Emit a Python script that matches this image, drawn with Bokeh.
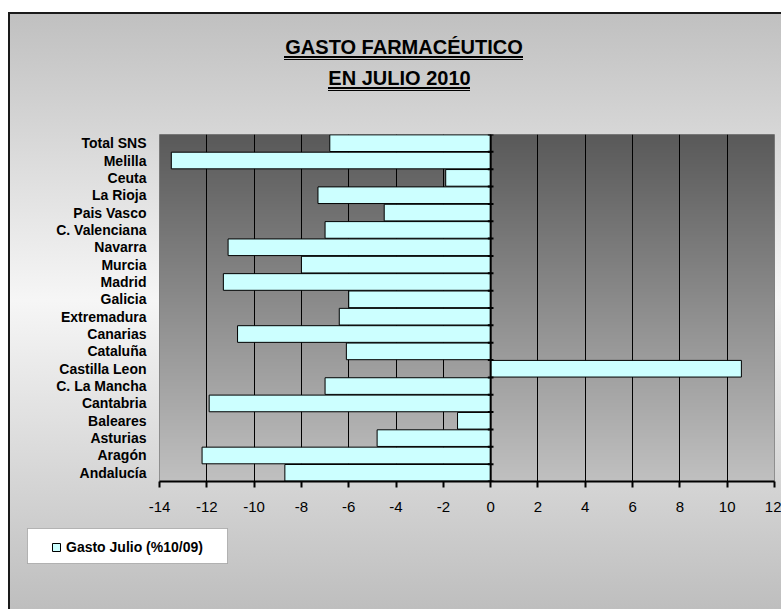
import numpy as np
from bokeh.plotting import figure
from bokeh.models import (FactorRange, Range1d, Label, BoxAnnotation, Span, Legend, LegendItem,
                          FixedTicker, InlineStyleSheet, ColumnDataSource, NumeralTickFormatter)
from bokeh.embed import file_html
from bokeh.resources import INLINE

# ---------------- data (bottom to top, as in the chart) ----------------
categories = ["Andalucía", "Aragón", "Asturias", "Baleares", "Cantabria",
              "C. La Mancha", "Castilla Leon", "Cataluña", "Canarias", "Extremadura",
              "Galicia", "Madrid", "Murcia", "Navarra", "C. Valenciana",
              "Pais Vasco", "La Rioja", "Ceuta", "Melilla", "Total SNS"]
gasto_julio = [-8.7, -12.2, -4.8, -1.4, -11.9,
               -7.0, 10.6, -6.1, -10.7, -6.4,
               -6.0, -11.3, -8.0, -11.1, -7.0,
               -4.5, -7.3, -1.9, -13.5, -6.8]
x_ticks = [-14, -12, -10, -8, -6, -4, -2, 0, 2, 4, 6, 8, 10, 12]
series_name = "Gasto Julio (%10/09)"
title_lines = ["GASTO FARMACÉUTICO", "EN JULIO 2010"]

# ---------------- layout constants (pixels) ----------------
W, H = 781, 609
FL, FT, FB, FR = 159, 134, 128, 7
FONT = "Liberation Sans"
BAR_FILL = "#ccffff"
x_min, x_max = x_ticks[0], x_ticks[-1]
n = len(categories)

# ======================= main chart =======================
p = figure(width=W, height=H, output_backend="svg", toolbar_location=None,
           x_range=Range1d(x_min, x_max), y_range=FactorRange(*categories),
           min_border_left=FL, min_border_top=FT, min_border_bottom=FB, min_border_right=FR)
p.background_fill_color = None
p.border_fill_color = None
p.outline_line_color = "#808080"
p.outline_line_width = 1

# chart-area background: frame border, vertical gradient, title double underlines
css = """
:host {
  background-image:
    linear-gradient(#000, #000), linear-gradient(#000, #000),
    linear-gradient(#000, #000), linear-gradient(#000, #000),
    linear-gradient(to right, #ffffff 0px, #ffffff 8px, #1a1a1a 8px, #1a1a1a 10px, transparent 10px),
    linear-gradient(to bottom, #ffffff 0px, #ffffff 12px, #1a1a1a 12px, #1a1a1a 14px,
                    #c0c0c0 14px, #f6f6f6 300px, #bebebe 609px);
  background-position: 284px 56px, 284px 59px, 328px 87px, 328px 90px, 0 12px, 0 0;
  background-size: 239px 2px, 239px 1px, 142px 2px, 142px 1px, 100% 100%, 100% 100%;
  background-repeat: no-repeat;
}
"""
p.stylesheets = [InlineStyleSheet(css=css)]

# plot-area vertical gradient (dark top -> light bottom)
rows = 400
t = (np.arange(rows) + 0.5) / rows          # 0 bottom -> 1 top
g = np.round(192 - t * (192 - 89)).astype(np.uint8)
rgba = np.zeros((rows, 1, 4), dtype=np.uint8)
rgba[..., 0] = g[:, None]
rgba[..., 1] = g[:, None]
rgba[..., 2] = g[:, None]
rgba[..., 3] = 255
img = rgba.view(np.uint32).reshape(rows, 1)
p.image_rgba(image=[img], x=x_min, y=0, dw=x_max - x_min, dh=n, level="image")

# grid
p.xgrid.grid_line_color = "black"
p.xgrid.grid_line_width = 1
p.ygrid.grid_line_color = None

# bars
src = ColumnDataSource(dict(cat=categories, val=gasto_julio))
bars = p.hbar(y="cat", left=0, right="val", height=0.96, source=src,
              fill_color=BAR_FILL, line_color="black", line_width=1)

# zero axis line with small ticks at category boundaries
p.add_layout(Span(location=0, dimension="height", line_color="black", line_width=2))
bounds = np.arange(n + 1)
tk = 0.12
p.segment(x0=[-tk] * len(bounds), x1=[tk] * len(bounds), y0=bounds, y1=bounds,
          line_color="black", line_width=2)

# x axis
xa = p.xaxis[0]
xa.ticker = FixedTicker(ticks=x_ticks)
xa.formatter = NumeralTickFormatter(format="0")
xa.axis_line_color = "black"
xa.axis_line_width = 2
xa.major_tick_line_color = "black"
xa.major_tick_line_width = 2
xa.major_tick_in = 0
xa.major_tick_out = 6
xa.minor_tick_line_color = None
xa.major_label_text_font = FONT
xa.major_label_text_font_size = "15px"
xa.major_label_text_color = "black"
xa.major_label_standoff = 14

# y axis (category labels only)
ya = p.yaxis[0]
ya.axis_line_color = None
ya.major_tick_line_color = None
ya.major_tick_in = 0
ya.major_tick_out = 0
ya.minor_tick_line_color = None
ya.major_label_text_font = FONT
ya.major_label_text_font_style = "bold"
ya.major_label_text_font_size = "14px"
ya.major_label_text_color = "black"
ya.major_label_standoff = 13

# ============ overlay (title + legend), same size, pixel coordinates ============
ov = figure(width=W, height=H, output_backend="svg", toolbar_location=None,
            x_range=Range1d(0, W), y_range=Range1d(H, 0),
            x_axis_location=None, y_axis_location=None,
            min_border=0, min_border_left=0, min_border_right=0,
            min_border_top=0, min_border_bottom=0)
ov.background_fill_color = None
ov.border_fill_color = None
ov.outline_line_color = None
ov.grid.visible = False
ov.stylesheets = [InlineStyleSheet(css=":host { position: absolute !important; "
                                       "left: 0px !important; top: 0px !important; }")]

# title lines (centre x, middle of capitals y, in pixels)
for txt, cx, my in [(title_lines[0], 403.5, 46.5), (title_lines[1], 399, 77)]:
    ov.add_layout(Label(x=cx, y=my, text=txt, text_align="center", text_baseline="middle",
                        text_font=FONT, text_font_style="bold", text_font_size="20px",
                        text_color="black"))

# legend box + legend (key renderer is hidden; only its swatch is used)
ov.add_layout(BoxAnnotation(left=27, right=227, top=528, bottom=563, fill_color="white",
                            fill_alpha=1, line_color="#404040", line_width=1, level="underlay"))
key = ov.hbar(y="val", left=0, right="val", height=0.5, source=src,
              fill_color=BAR_FILL, line_color="black", line_width=1, visible=False)
legend = Legend(items=[LegendItem(label=series_name, renderers=[key])],
                location=(51, 53), orientation="horizontal", click_policy="none",
                background_fill_alpha=0, border_line_color=None,
                inactive_fill_alpha=0,
                padding=8, spacing=0, margin=0, glyph_width=10, glyph_height=10,
                label_standoff=5, label_height=19,
                label_text_font=FONT, label_text_font_style="bold",
                label_text_font_size="14px", label_text_color="black")
ov.add_layout(legend)

open("out.html", "w").write(file_html([p, ov], INLINE))
